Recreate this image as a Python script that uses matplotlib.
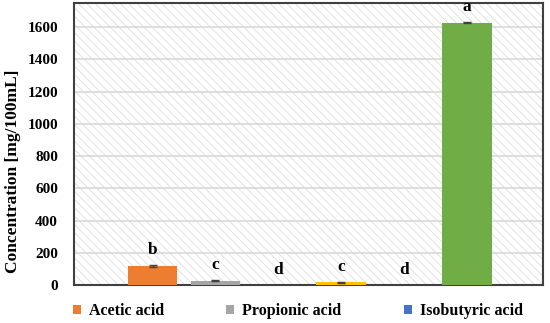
import matplotlib.pyplot as plt
from matplotlib.patches import Rectangle

# bar values (mg/100mL)
series = ["Acetic acid", "Propionic acid", "Isobutyric acid", "s4", "s5", "s6"]
values = [118, 26, 1.5, 17, 1.5, 1629]
errors = [8, 3, 0.5, 2, 0.5, 5]
letters = ["b", "c", "d", "c", "d", "a"]
colors = ["#ED7D31", "#A5A5A5", "#4472C4", "#FFC000", "#264478", "#70AD47"]
legend_names = ["Acetic acid", "Propionic acid", "Isobutyric acid"]
yticks = [0, 200, 400, 600, 800, 1000, 1200, 1400, 1600]

plt.rcParams['font.family'] = ['Liberation Serif', 'DejaVu Serif']
plt.rcParams['font.weight'] = 'bold'
plt.rcParams['hatch.linewidth'] = 0.6

fig = plt.figure(figsize=(5.5, 3.23), dpi=100)
ax = fig.add_axes([0.1345, 0.1176, 0.852, 0.873])

# hatched background like the Excel plot area
ax.add_patch(Rectangle((0, 0), 1, 1, transform=ax.transAxes, facecolor='white',
                       edgecolor='#DDDDDD', hatch='\\\\\\\\', linewidth=0, zorder=0))

x = list(range(len(values)))
bars = ax.bar(x, values, width=0.79, color=colors, zorder=3,
              yerr=errors, error_kw=dict(ecolor='#404040', elinewidth=1, capsize=3, capthick=1))

for xi, v, e, t in zip(x, values, errors, letters):
    ax.annotate(t, (xi, v + e), xytext=(0, 5), textcoords='offset points',
                ha='center', va='bottom', fontsize=12.5, fontweight='bold')

ax.set_xlim(-1.25, 6.2)
ax.set_ylim(0, 1750)
ax.set_yticks(yticks)
ax.set_xticks([])
ax.yaxis.grid(True, color='#D9D9D9', linewidth=1.2, zorder=1)
ax.set_axisbelow(True)
ax.tick_params(axis='y', length=0, labelsize=11, pad=11.5)
for s in ax.spines.values():
    s.set_color('#404040')
    s.set_linewidth(1.5)
ax.set_ylabel("Concentration [mg/100mL]", fontsize=12.5, fontweight='bold')
ax.yaxis.set_label_coords(-0.112, 0.404)

fig.legend(bars[:3], legend_names, loc='center left', bbox_to_anchor=(73 / 550, 1 - 311 / 323),
           ncol=3, frameon=False, fontsize=11.5, handlelength=0.5, handleheight=0.5,
           handletextpad=0.5, columnspacing=3.9, borderpad=0, borderaxespad=0)

fig.savefig("out.png", dpi=100)
